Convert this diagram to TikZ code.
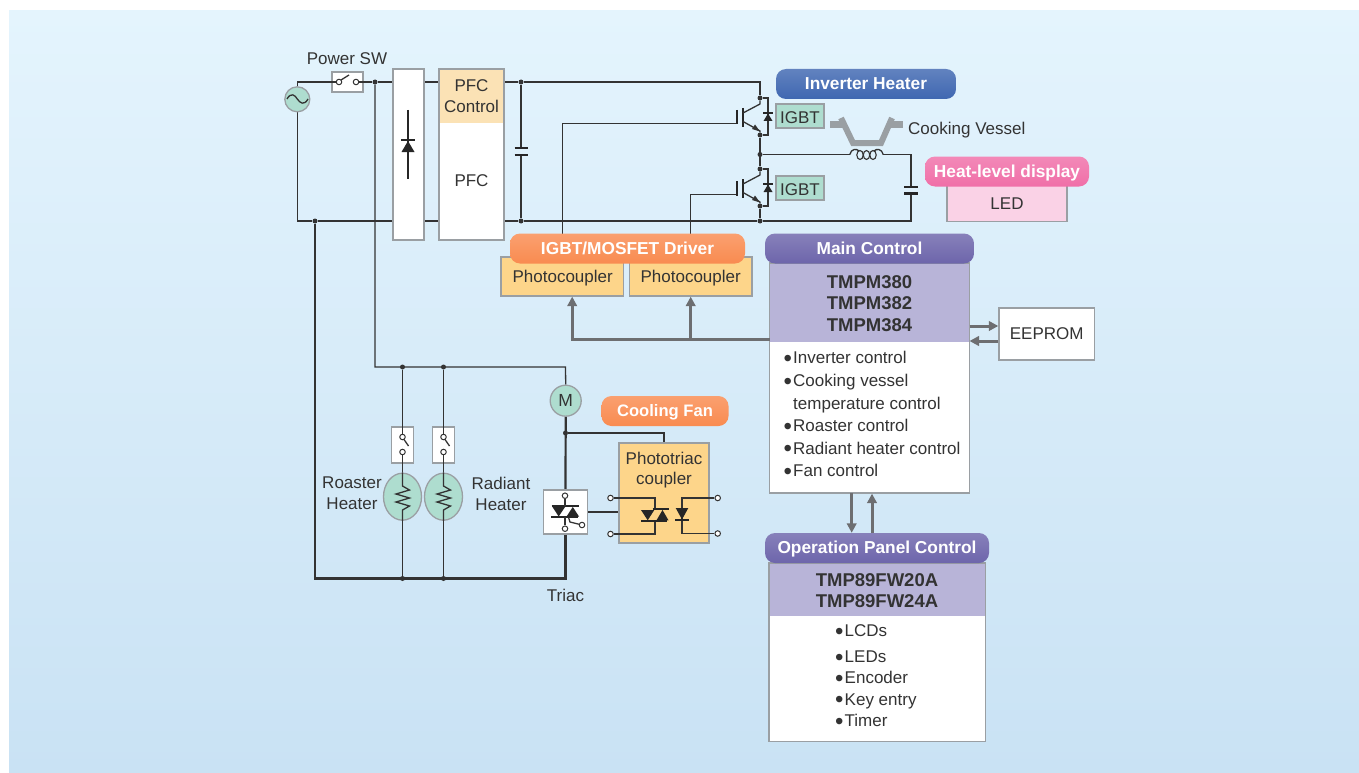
\documentclass[tikz,border=0pt]{standalone}
\usepackage{fontspec}
\setmainfont{Liberation Sans}
\usetikzlibrary{shapes,arrows.meta,backgrounds}

\definecolor{wirecol}{HTML}{333333}
\definecolor{framecol}{HTML}{9A9FA3}
\definecolor{buscol}{HTML}{6D6E71}
\definecolor{mintcol}{HTML}{AEDDCF}
\definecolor{peachcol}{HTML}{FBE2B5}
\definecolor{ambercol}{HTML}{FDD58A}
\definecolor{lavcol}{HTML}{B8B4D8}
\definecolor{pinkcol}{HTML}{FAD2E6}
\definecolor{bluepillcol}{HTML}{3F67B1}
\definecolor{pinkpillcol}{HTML}{F06FA8}
\definecolor{orangepillcol}{HTML}{F98B50}
\definecolor{purplepillcol}{HTML}{6D65AB}
\definecolor{skytop}{HTML}{E4F4FD}
\definecolor{skybot}{HTML}{C9E2F4}

\newcommand{\listdot}{\makebox[9.5pt][l]{\raisebox{-2.6pt}{\fontsize{24}{21}\selectfont\textbullet}}}

\tikzset{
    headbox/.style 2 args={
        path picture={
            \fill[#2] (path picture bounding box.north west) rectangle
                ([yshift=-#1pt]path picture bounding box.north east);
        }
    }
}

\begin{document}
\begin{tikzpicture}[x=1pt, y=-1pt]

% =========================
% Styles
% =========================
\tikzstyle{txt} = [
    inner sep=0pt,
    text=wirecol,
    align=center,
    font=\fontsize{17}{21}\selectfont
]

\tikzstyle{chip} = [
    txt,
    font=\fontsize{18.5}{21.4}\selectfont\bfseries
]

\tikzstyle{box} = [
    rectangle, draw=framecol,
    line width=1.3pt,
    fill=white,
    inner sep=0pt,
    text=wirecol,
    font=\fontsize{17}{21}\selectfont
]

\tikzstyle{pill} = [
    rectangle,
    rounded corners=10pt,
    minimum height=30pt,
    inner sep=0pt,
    text=white,
    text height=12.4pt,
    text depth=1.4pt,
    font=\fontsize{17.3}{21}\selectfont\bfseries
]

\tikzstyle{bluepill} = [pill, top color=bluepillcol!82!white, middle color=bluepillcol, bottom color=bluepillcol]
\tikzstyle{pinkpill} = [pill, top color=pinkpillcol!82!white, middle color=pinkpillcol, bottom color=pinkpillcol]
\tikzstyle{orangepill} = [pill, top color=orangepillcol!82!white, middle color=orangepillcol, bottom color=orangepillcol]
\tikzstyle{purplepill} = [pill, top color=purplepillcol!82!white, middle color=purplepillcol, bottom color=purplepillcol]

\tikzstyle{round} = [circle, draw=framecol, line width=1.3pt, fill=mintcol, inner sep=0pt]
\tikzstyle{heater} = [ellipse, draw=framecol, line width=1.3pt, fill=mintcol, inner sep=0pt,
    minimum width=38pt, minimum height=47pt]
\tikzstyle{dot} = [circle, fill=wirecol, inner sep=0pt, minimum size=5pt]
\tikzstyle{term} = [circle, draw=wirecol, line width=1pt, fill=white, inner sep=0pt, minimum size=5.5pt]
\tikzstyle{wire} = [draw=wirecol, line width=1.3pt]
\tikzstyle{heavy} = [draw=wirecol, line width=2.2pt]
\tikzstyle{plate} = [draw=black!85, line width=2.4pt]
\tikzstyle{bus} = [draw=buscol, -{Triangle[length=9.5pt,width=9.5pt]}, line width=3pt]

\useasboundingbox (0,0) rectangle (1359,773);

% =========================
% Boxes
% =========================
\node[round, minimum size=25pt] (src) at (297.3,99.3) {};
\node[box, minimum width=31pt, minimum height=20pt] (sw) at (347.4,82) {};
\node[txt] (swlabel) at (347,59) {Power SW};
\node[box, minimum width=31pt, minimum height=171pt] (bridge) at (408.5,154.5) {};
\node[box, minimum width=65pt, minimum height=171pt, headbox={54}{peachcol}] (pfc) at (471.5,154.5) {};
\node[txt] (pfchead) at (471.5,96) {PFC\\Control};
\node[txt] (pfclabel) at (471.5,181) {PFC};

\node[bluepill, minimum width=180pt] (invpill) at (866,84) {Inverter Heater};
\node[box, fill=mintcol, minimum width=48pt, minimum height=24pt, text height=14.2pt] (igbta) at (800,116) {IGBT};
\node[box, fill=mintcol, minimum width=48pt, minimum height=24pt, text height=14.2pt] (igbtb) at (800,188) {IGBT};
\node[txt, anchor=west] (vessel) at (908,130.5) {Cooking Vessel};

\node[box, fill=pinkcol, minimum width=120pt, minimum height=36pt] (led) at (1007,203.5) {LED};
\node[pinkpill, minimum width=164pt] (heatpill) at (1007,171.5) {Heat-level display};

\node[box, fill=ambercol, minimum width=122.5pt, minimum height=39pt] (pca) at (562.2,276.5) {};
\node[box, fill=ambercol, minimum width=122.5pt, minimum height=39pt] (pcb) at (690.7,276.5) {};
\node[txt] (pcatext) at (562.7,278.5) {Photocoupler};
\node[txt] (pcbtext) at (690.7,278.5) {Photocoupler};
\node[orangepill, minimum width=235pt] (drvpill) at (627.5,248.5) {IGBT/MOSFET Driver};

\node[box, minimum width=200pt, minimum height=230pt, headbox={79}{lavcol}] (main) at (869.5,378) {};
\node[purplepill, minimum width=209pt] (mainpill) at (869.5,248.5) {Main Control};
\node[chip] (mainchips) at (869.5,303.5) {TMPM380\\TMPM382\\TMPM384};
\node[txt, anchor=west, align=left, font=\fontsize{17}{22.6}\selectfont] (mainlist) at (783.5,415.5)
    {\listdot Inverter control\\
     \listdot Cooking vessel\\
     \hspace*{9.5pt}temperature control\\
     \listdot Roaster control\\
     \listdot Radiant heater control\\
     \listdot Fan control};
\node[box, minimum width=95.5pt, minimum height=52pt] (eeprom) at (1046.7,334) {EEPROM};

\node[box, minimum width=216.6pt, minimum height=178.7pt, headbox={52.7}{lavcol}] (opbox) at (877.3,652.3) {};
\node[purplepill, minimum width=224pt] (oppill) at (877,548) {Operation Panel Control};
\node[chip] (opchips) at (877,590.5) {TMP89FW20A\\TMP89FW24A};
\node[txt, anchor=west, align=left, font=\fontsize{17}{21.3}\selectfont] (oplist) at (835,677)
    {\listdot LCDs\\[4.5pt]
     \listdot LEDs\\
     \listdot Encoder\\
     \listdot Key entry\\
     \listdot Timer};

\node[round, minimum size=31pt, font=\fontsize{17.5}{21}\selectfont, text=wirecol] (mot) at (565.7,400.7) {M};
\node[orangepill, minimum width=127pt, font=\fontsize{16.6}{21}\selectfont\bfseries] (fanpill) at (665,411) {Cooling Fan};
\node[box, minimum width=22pt, minimum height=36pt] (swra) at (402.5,445) {};
\node[box, minimum width=22pt, minimum height=36pt] (swrb) at (443.5,445) {};
\node[heater] (heata) at (402.5,496.7) {};
\node[heater] (heatb) at (443.5,496.7) {};
\node[txt] (heatalabel) at (352,493.5) {Roaster\\Heater};
\node[txt] (heatblabel) at (501,493.5) {Radiant\\Heater};
\node[box, minimum width=44.5pt, minimum height=44pt] (triac) at (565.5,512) {};
\node[txt] (triaclabel) at (565.5,595) {Triac};
\node[box, fill=ambercol, minimum width=90pt, minimum height=100pt] (coupler) at (664,493) {};
\node[txt, font=\fontsize{17}{19.5}\selectfont] (couplerlabel) at (664,470) {Phototriac\\coupler};

% =========================
% Junctions and terminals
% =========================
\node[dot] (jsw) at (375,82) {};
\node[dot] (jcapt) at (521,82) {};
\node[dot] (jgnd) at (315,221) {};
\node[dot] (jcapb) at (521,221) {};
\node[dot] (jigbt) at (760,221) {};
\node[dot] (jmid) at (760,154.5) {};
\node[dot] (jra) at (402.5,367) {};
\node[dot] (jrb) at (443.5,367) {};
\node[dot] (jba) at (402.5,578.5) {};
\node[dot] (jbb) at (443.5,578.5) {};
\node[dot] (jfan) at (565.5,433) {};

\node[term] (swa) at (339,82) {};
\node[term] (swb) at (356,82) {};
\node[term] (swra1) at (402.5,437) {};
\node[term] (swra2) at (402.5,452) {};
\node[term] (swrb1) at (443.5,437) {};
\node[term] (swrb2) at (443.5,452) {};
\node[term] (trm1) at (565,495.7) {};
\node[term] (trm2) at (565,528.7) {};
\node[term] (trm3) at (582,525) {};
\node[term] (cpl1) at (610.5,498) {};
\node[term] (cpl2) at (610.5,534) {};
\node[term] (cpl3) at (717.7,498) {};
\node[term] (cpl4) at (717.7,533.5) {};

\coordinate (captopa) at (521,148);
\coordinate (capbota) at (521,155);
\coordinate (captopb) at (911,187);
\coordinate (capbotb) at (911,193.5);
\coordinate (cornerb) at (911,221);
\coordinate (corners) at (297.3,221);
\coordinate (cornerm) at (565.5,367);
\coordinate (cornerc) at (565.5,578.5);
\coordinate (cornerl) at (315,578.5);
\node[inner sep=0pt, minimum width=33pt, minimum height=10pt] (coil) at (866.5,154.5) {};

% =========================
% IGBT pairs
% =========================
\foreach \n/\off in {a/0, b/71} {
    \node[dot] (col\n) at (760,98+\off) {};
    \node[dot] (emi\n) at (760,135+\off) {};
    \coordinate (gate\n) at (737,123.6+\off);
    \draw[line width=2.6pt, draw=black!85] (737,110+\off) -- (737,124.5+\off);
    \draw[line width=2.6pt, draw=black!85] (743,108+\off) -- (743,127+\off);
    \draw[wire] (col\n) -- ++(0,6) -- (743,113+\off);
    \draw[wire] (743,121.5+\off) -- (760,131+\off) -- (emi\n);
    \fill[wirecol] (760,131.5+\off) -- (752,129+\off) -- (755,124.5+\off) -- cycle;
    \draw[wire] (col\n) -| (768,135+\off) -- (emi\n);
    \fill[black!85] (768,113.5+\off) -- (772.5,121+\off) -- (763.5,121+\off) -- cycle;
    \draw[line width=1.8pt, draw=black!85] (763,113+\off) -- (773,113+\off);
}

% =========================
% Connections
% =========================
\begin{scope}[on background layer]
\shade[top color=skytop, bottom color=skybot] (9,11) rectangle (1359,773);

\draw[wire] (src.north) |- (sw.west);
\draw[wire] (sw.east) -- (jsw) -- (jcapt) -| (cola);
\draw[wire] (src.south) -- (corners) -- (jgnd) -- (jcapb) -- (jigbt) -- (cornerb) -- (capbotb);
\draw[wire] (captopb) |- (coil.east);
\draw[wire] (coil.west) -- (jmid);
\draw[wire] (jcapt) -- (captopa);
\draw[wire] (capbota) -- (jcapb);
\draw[wire] (emia) -- (colb);
\draw[wire] (emib) -- (jigbt);
\draw[wire] (pca.north) |- (gatea);
\draw[wire] (pcb.north) |- (gateb);
\draw[wire] (jsw) |- (cornerm) -- (mot.north);
\draw[wire] (jra) -- (heata.north);
\draw[wire] (jrb) -- (heatb.north);
\draw[wire] (heata.south) -- (jba);
\draw[wire] (heatb.south) -- (jbb);
\draw[heavy] (jgnd) -- (cornerl) -- (cornerc) -- (triac.south);
\draw[heavy] (mot.south) -- (triac.north);
\draw[wire] (jfan) -| (coupler.north);
\draw[heavy] (triac.east) -- (triac.east -| coupler.west);
\end{scope}

\draw[plate] (514.5,148) -- (527.5,148);
\draw[plate] (514.5,155) -- (527.5,155);
\draw[plate] (904,187) -- (918,187);
\draw[plate] (904,193.5) -- (918,193.5);

% coil under the vessel
\draw[wire] (coil.west) .. controls (851,148.5) and (857,148.5) .. (859,151);
\draw[wire] (coil.east) .. controls (882,148.5) and (876,148.5) .. (874,151);
\foreach \cx in {860,866.5,873} {
    \draw[line width=1.1pt, draw=wirecol] (\cx,155) ellipse (3.2 and 4.5);
}

% cooking vessel
\draw[line width=6pt, draw=framecol, line join=miter] (841,118) -- (853,143) -- (881,143) -- (892,118);
\draw[line width=7pt, draw=framecol] (830,125) -- (845,125);
\draw[line width=7pt, draw=framecol] (889,125) -- (903,125);

% source tilde
\draw[line width=1.3pt, draw=wirecol] (287,99) .. controls (291,92) and (295,95) .. (297.3,99)
    .. controls (300,103) and (304,106) .. (308,99);

% power switch
\draw[wire] (swb) -- (sw.east);
\draw[wire] (sw.west) -- (swa);
\draw[wire] (341,80) -- (349,75);

% rectifier diode
\draw[line width=1.8pt, draw=black!85] (408,110) -- (408,179);
\draw[line width=2.4pt, draw=black!85] (401,140) -- (415,140);
\fill[black!85] (408,141) -- (414.5,152) -- (401.5,152) -- cycle;

% heater switches and elements
\foreach \n/\hx in {a/402.5, b/443.5} {
    \draw[wire] (swr\n.north) -- (swr\n1);
    \draw[wire] (swr\n2) -- (swr\n.south);
    \draw[wire] (\hx+1.5,439.5) -- (\hx+6,446);
    \draw[wire] (heat\n.north) -- (\hx,486) -- (\hx+7,490) -- (\hx-6.5,494) -- (\hx+7,498)
        -- (\hx-6.5,502) -- (\hx+7,506) -- (\hx,510) -- (heat\n.south);
}

% triac
\draw[line width=2.3pt, draw=black!85] (551.7,506.3) -- (579,506.3);
\draw[line width=2.3pt, draw=black!85] (551,517.3) -- (578,517.3);
\fill[black!85] (552.5,507) -- (565,507) -- (558.7,516.5) -- cycle;
\fill[black!85] (566.5,516.5) -- (579,516.5) -- (572.8,507) -- cycle;
\draw[wire] (trm1) -- (565,506.3);
\draw[wire] (565,517.3) -- (trm2);
\draw[wire] (568.5,517.3) -- (570,522) -- (trm3);

% phototriac coupler
\draw[wire] (cpl1) -| (655,509);
\draw[wire] (655,521) |- (cpl2);
\draw[line width=2.3pt, draw=black!85] (652.7,509) -- (669,509);
\draw[line width=2.3pt, draw=black!85] (641,521) -- (666.5,521);
\fill[black!85] (641,510) -- (654.3,510) -- (647.7,520.3) -- cycle;
\fill[black!85] (656.5,520.3) -- (668.5,520.3) -- (662.5,510) -- cycle;
\draw[wire] (cpl3) -| (682,520);
\draw[wire] (682,520) |- (cpl4);
\fill[black!85] (675.7,508) -- (688.3,508) -- (682,519.5) -- cycle;
\draw[line width=2.3pt, draw=black!85] (675,520.3) -- (689,520.3);

% =========================
% Control signals
% =========================
\coordinate (busout) at (769.5,339);
\coordinate (pcaport) at ([xshift=10pt]pca.south);
\coordinate (busjoin) at (pcb.south |- busout);
\coordinate (eeout) at (969.5,326);
\coordinate (eein) at (969.5,341);
\coordinate (opdown) at (851.7,493);
\coordinate (opup) at (872,533);

\draw[bus] (busout) -| (pcaport);
\draw[bus] (busjoin) -- (pcb.south);
\draw[bus] (eeout) -- (eeout -| eeprom.west);
\draw[bus] (eein -| eeprom.west) -- (eein);
\draw[bus] (opdown) -- (opdown |- oppill.north);
\draw[bus] (opup) -- (opup |- main.south);

\end{tikzpicture}
\end{document}
